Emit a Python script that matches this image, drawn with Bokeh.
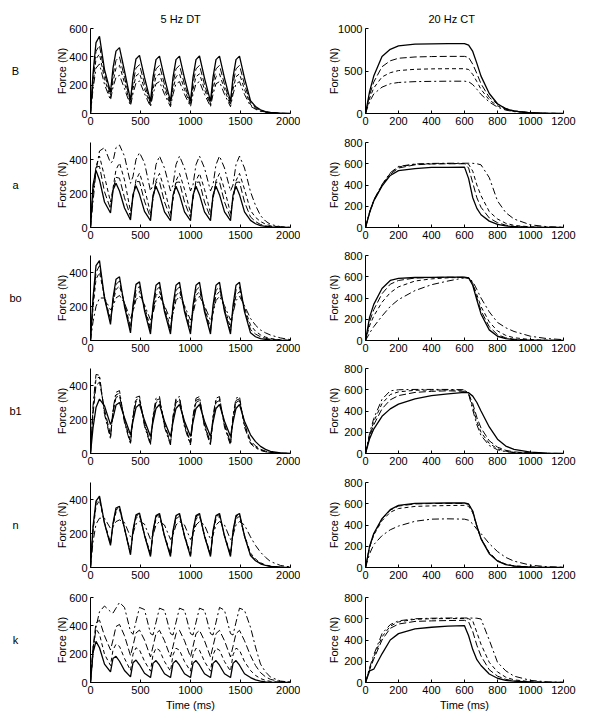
from bokeh.plotting import figure
from bokeh.layouts import column, row
from bokeh.models import Range1d, FixedTicker, Title, ColumnDataSource
from bokeh.core.properties import value
from bokeh.embed import file_html
from bokeh.resources import INLINE

FONT = "Liberation Sans"

# ---------------- data ----------------
row_names = ["B", "a", "bo", "b1", "n", "k"]
col_titles = ["5 Hz DT", "20 Hz CT"]

dt_ymax = [600, 500, 500, 500, 500, 600]
ct_ymax = [1000, 800, 800, 800, 800, 800]
dt_yticks = [[0, 200, 400, 600], [0, 200, 400], [0, 200, 400], [0, 200, 400], [0, 200, 400], [0, 200, 400, 600]]
ct_yticks = [[0, 500, 1000], [0, 200, 400, 600, 800], [0, 200, 400, 600, 800],
             [0, 200, 400, 600, 800], [0, 200, 400, 600, 800], [0, 200, 400, 600, 800]]
dt_xticks = [0, 500, 1000, 1500, 2000]
ct_xticks = [0, 200, 400, 600, 800, 1000, 1200]

# time samples (ms)
dt_time = [0, 25, 55, 90, 140, 200, 225, 255, 290, 340, 400, 425, 455, 490, 540,
           600, 625, 655, 690, 740, 800, 825, 855, 890, 940, 1000, 1025, 1055, 1090, 1140,
           1200, 1225, 1255, 1290, 1340, 1400, 1425, 1455, 1490, 1540,
           1600, 1650, 1700, 1750, 1800, 1900, 2000]
ct_time = [0, 25, 50, 100, 150, 200, 300, 400, 500, 600, 625, 650, 675, 700, 750, 800, 850, 900, 1000, 1100, 1200]

# ---- 5 Hz DT forces (N) ----
B_dt_solid = [0, 280, 500, 545, 310, 150, 320, 440, 465, 300, 95, 260, 385, 410, 255, 85, 255, 380, 405, 250,
              85, 255, 380, 405, 250, 85, 255, 380, 406, 250, 85, 255, 380, 405, 250, 85, 255, 380, 405, 250,
              90, 50, 26, 14, 7, 2, 0]
B_dt_dash = [0, 240, 440, 480, 280, 130, 270, 375, 400, 255, 80, 215, 320, 345, 210, 70, 210, 315, 340, 205,
             70, 210, 315, 340, 205, 70, 210, 315, 340, 205, 70, 210, 315, 340, 205, 70, 210, 315, 340, 205,
             75, 42, 22, 12, 6, 2, 0]
B_dt_dash2 = [0, 205, 385, 420, 245, 110, 225, 320, 340, 215, 65, 175, 265, 285, 175, 58, 170, 260, 280, 170,
              58, 170, 260, 280, 170, 58, 170, 260, 280, 170, 58, 170, 260, 280, 170, 58, 170, 260, 280, 170,
              62, 35, 18, 10, 5, 1, 0]
B_dt_dashdot = [0, 170, 320, 350, 205, 95, 185, 255, 270, 175, 55, 140, 215, 230, 140, 48, 135, 210, 225, 135,
                48, 135, 210, 225, 135, 48, 135, 210, 225, 135, 48, 135, 210, 225, 135, 48, 135, 210, 225, 135,
                52, 30, 15, 8, 4, 1, 0]

a_dt_solid = [0, 250, 335, 280, 150, 85, 220, 260, 215, 115, 45, 195, 245, 195, 95, 40, 190, 243, 193, 92,
              40, 190, 243, 193, 92, 40, 190, 243, 193, 92, 40, 190, 243, 193, 92, 40, 190, 243, 193, 92,
              42, 22, 11, 6, 3, 1, 0]
a_dt_dash = [0, 220, 355, 360, 210, 110, 220, 295, 290, 175, 65, 185, 270, 270, 155, 58, 178, 265, 268, 150,
             58, 178, 265, 268, 150, 58, 178, 265, 268, 150, 58, 178, 265, 268, 150, 58, 178, 265, 268, 150,
             62, 35, 18, 10, 5, 1, 0]
a_dt_dash2 = [0, 190, 360, 420, 300, 150, 230, 340, 380, 280, 95, 170, 280, 320, 230, 85, 165, 275, 318, 225,
              85, 165, 275, 318, 225, 85, 165, 275, 318, 225, 85, 165, 275, 318, 225, 85, 165, 275, 318, 225,
              100, 60, 35, 20, 11, 3, 0]
a_dt_dashdot = [0, 150, 330, 450, 470, 380, 390, 470, 485, 420, 260, 300, 400, 440, 380, 215, 250, 370, 420, 350,
                215, 250, 370, 420, 350, 215, 250, 370, 420, 350, 215, 250, 370, 420, 350, 215, 250, 370, 420, 350,
                210, 130, 70, 38, 18, 5, 0]

bo_dt_solid = [0, 250, 440, 470, 250, 95, 250, 360, 375, 200, 45, 210, 330, 345, 175, 38, 205, 325, 342, 170,
               38, 205, 325, 342, 170, 38, 205, 325, 342, 170, 38, 205, 325, 342, 170, 38, 205, 325, 342, 170,
               45, 22, 11, 6, 3, 1, 0]
bo_dt_dash = [0, 220, 400, 440, 250, 110, 235, 330, 350, 210, 60, 190, 300, 318, 185, 55, 185, 295, 315, 180,
              55, 185, 295, 315, 180, 55, 185, 295, 315, 180, 55, 185, 295, 315, 180, 55, 185, 295, 315, 180,
              65, 38, 22, 13, 7, 2, 0]
bo_dt_dash2 = [0, 190, 360, 400, 260, 125, 220, 300, 320, 220, 80, 175, 270, 290, 200, 75, 170, 265, 288, 195,
               75, 170, 265, 288, 195, 75, 170, 265, 288, 195, 75, 170, 265, 288, 195, 75, 170, 265, 288, 195,
               90, 55, 33, 20, 12, 4, 0]
bo_dt_dashdot = [0, 110, 200, 250, 250, 180, 200, 250, 265, 220, 130, 170, 240, 262, 210, 120, 160, 235, 260, 205,
                 120, 160, 235, 260, 205, 120, 160, 235, 260, 205, 120, 160, 235, 260, 205, 120, 160, 235, 260, 205,
                 130, 90, 62, 45, 32, 15, 5]

b1_dt_solid = [0, 150, 270, 320, 280, 170, 210, 285, 300, 210, 110, 190, 270, 290, 195, 100, 185, 265, 288, 190,
               100, 185, 265, 288, 190, 100, 185, 265, 288, 190, 100, 185, 265, 288, 190, 100, 185, 265, 288, 190,
               110, 70, 42, 24, 13, 4, 1]
b1_dt_dash = [0, 230, 400, 420, 260, 110, 240, 330, 340, 200, 70, 210, 305, 315, 180, 62, 205, 300, 312, 175,
              62, 205, 300, 312, 175, 62, 205, 300, 312, 175, 62, 205, 300, 312, 175, 62, 205, 300, 312, 175,
              75, 45, 25, 14, 7, 2, 0]
b1_dt_dash2 = [0, 260, 440, 450, 240, 95, 250, 345, 355, 190, 60, 215, 315, 325, 170, 55, 210, 312, 322, 165,
               55, 210, 312, 322, 165, 55, 210, 312, 322, 165, 55, 210, 312, 322, 165, 55, 210, 312, 322, 165,
               65, 38, 21, 11, 6, 1, 0]
b1_dt_dashdot = [0, 280, 465, 460, 230, 85, 260, 360, 370, 180, 55, 225, 330, 338, 160, 50, 220, 325, 335, 155,
                 50, 220, 325, 335, 155, 50, 220, 325, 335, 155, 50, 220, 325, 335, 155, 50, 220, 325, 335, 155,
                 58, 33, 18, 10, 5, 1, 0]

n_dt_solid = [0, 240, 390, 420, 260, 130, 260, 350, 360, 230, 75, 220, 310, 320, 190, 65, 215, 305, 318, 185,
              65, 215, 305, 318, 185, 65, 215, 305, 318, 185, 65, 215, 305, 318, 185, 65, 215, 305, 318, 185,
              70, 40, 22, 12, 6, 2, 0]
n_dt_dash = [0, 230, 380, 410, 260, 135, 255, 340, 352, 228, 80, 215, 302, 315, 188, 70, 210, 298, 312, 183,
             70, 210, 298, 312, 183, 70, 210, 298, 312, 183, 70, 210, 298, 312, 183, 70, 210, 298, 312, 183,
             75, 43, 24, 13, 7, 2, 0]
n_dt_dash2 = [0, 210, 360, 395, 265, 145, 245, 325, 340, 230, 90, 205, 290, 305, 195, 80, 200, 285, 302, 190,
              80, 200, 285, 302, 190, 80, 200, 285, 302, 190, 80, 200, 285, 302, 190, 80, 200, 285, 302, 190,
              85, 50, 28, 15, 8, 2, 0]
n_dt_dashdot = [0, 150, 255, 290, 290, 230, 240, 270, 280, 265, 180, 200, 255, 272, 255, 165, 190, 250, 270, 250,
                165, 190, 250, 270, 250, 165, 190, 250, 270, 250, 165, 190, 250, 270, 250, 165, 190, 250, 270, 250,
                180, 130, 90, 60, 35, 12, 3]

k_dt_solid = [0, 210, 290, 245, 130, 75, 170, 185, 150, 85, 40, 140, 158, 125, 65, 35, 135, 155, 122, 62,
              35, 135, 155, 122, 62, 35, 135, 155, 122, 62, 35, 135, 155, 122, 62, 35, 135, 155, 122, 62,
              35, 18, 9, 5, 2, 0, 0]
k_dt_dash = [0, 250, 420, 440, 330, 230, 300, 395, 410, 330, 190, 260, 350, 370, 300, 180, 255, 345, 368, 295,
             180, 255, 345, 368, 295, 180, 255, 345, 368, 295, 180, 255, 345, 368, 295, 180, 255, 345, 368, 295,
             190, 120, 70, 40, 22, 6, 1]
k_dt_dash2 = [0, 240, 380, 340, 200, 120, 230, 270, 255, 170, 85, 200, 245, 230, 150, 80, 195, 242, 228, 148,
              80, 195, 242, 228, 148, 80, 195, 242, 228, 148, 80, 195, 242, 228, 148, 80, 195, 242, 228, 148,
              85, 50, 28, 15, 8, 2, 0]
k_dt_dashdot = [0, 200, 390, 500, 540, 500, 490, 525, 565, 530, 360, 340, 430, 530, 515, 345, 335, 425, 525, 510,
                345, 335, 425, 525, 510, 345, 335, 425, 525, 510, 345, 335, 425, 530, 510, 345, 335, 425, 525, 510,
                390, 250, 130, 75, 38, 10, 3]

# ---- 20 Hz CT forces (N) ----
B_ct_solid = [0, 260, 440, 670, 755, 795, 815, 820, 822, 822, 805, 730, 590, 440, 235, 115, 55, 28, 8, 2, 0]
B_ct_dash = [0, 220, 370, 550, 620, 650, 665, 670, 672, 672, 660, 580, 470, 350, 190, 110, 60, 32, 10, 3, 0]
B_ct_dash2 = [0, 180, 300, 430, 480, 505, 520, 525, 527, 527, 518, 460, 375, 285, 160, 90, 50, 27, 8, 2, 0]
B_ct_dashdot = [0, 140, 230, 310, 350, 365, 375, 378, 380, 380, 374, 340, 285, 225, 135, 75, 40, 22, 7, 2, 0]

a_ct_solid = [0, 140, 250, 390, 490, 535, 555, 565, 565, 568, 460, 280, 180, 120, 60, 30, 15, 8, 2, 1, 0]
a_ct_dash = [0, 140, 250, 395, 500, 560, 590, 598, 600, 600, 560, 420, 280, 190, 90, 45, 22, 10, 3, 1, 0]
a_ct_dash2 = [0, 145, 255, 400, 510, 570, 595, 600, 602, 602, 595, 530, 400, 300, 150, 80, 40, 20, 6, 2, 0]
a_ct_dashdot = [0, 150, 260, 405, 515, 575, 598, 603, 605, 605, 605, 604, 600, 590, 470, 250, 140, 80, 25, 8, 2]

bo_ct_solid = [0, 220, 340, 490, 565, 585, 593, 595, 596, 596, 590, 520, 380, 250, 100, 40, 18, 8, 3, 1, 0]
bo_ct_dash = [0, 180, 290, 440, 530, 565, 588, 593, 595, 595, 590, 530, 400, 280, 130, 55, 25, 12, 4, 1, 0]
bo_ct_dash2 = [0, 140, 230, 360, 450, 505, 560, 580, 590, 594, 588, 540, 430, 320, 175, 90, 48, 26, 9, 3, 1]
bo_ct_dashdot = [0, 70, 130, 230, 320, 385, 470, 525, 560, 590, 585, 555, 480, 400, 270, 170, 120, 85, 40, 18, 8]

b1_ct_solid = [0, 140, 230, 350, 420, 465, 515, 545, 562, 575, 572, 540, 480, 400, 250, 135, 70, 38, 12, 4, 1]
b1_ct_dash = [0, 160, 270, 420, 505, 545, 575, 585, 590, 585, 560, 470, 340, 240, 120, 60, 30, 15, 5, 1, 0]
b1_ct_dash2 = [0, 175, 300, 470, 555, 580, 595, 598, 598, 595, 565, 440, 300, 200, 95, 45, 22, 11, 4, 1, 0]
b1_ct_dashdot = [0, 190, 330, 510, 590, 600, 603, 603, 603, 600, 560, 410, 270, 170, 75, 35, 17, 8, 3, 1, 0]

n_ct_solid = [0, 200, 320, 460, 545, 585, 603, 606, 607, 607, 598, 530, 390, 270, 130, 60, 28, 13, 4, 1, 0]
n_ct_dash = [0, 195, 315, 455, 540, 578, 598, 602, 603, 603, 594, 528, 390, 272, 135, 62, 30, 14, 4, 1, 0]
n_ct_dash2 = [0, 190, 305, 440, 520, 555, 575, 580, 583, 585, 576, 515, 385, 275, 140, 66, 31, 15, 5, 1, 0]
n_ct_dashdot = [0, 130, 215, 300, 355, 390, 435, 455, 458, 455, 445, 410, 360, 320, 225, 150, 95, 60, 22, 8, 2]

k_ct_solid = [0, 110, 125, 270, 400, 460, 505, 520, 530, 535, 440, 310, 215, 160, 80, 40, 20, 12, 4, 1, 0]
k_ct_dash = [0, 120, 220, 400, 510, 550, 575, 580, 583, 585, 570, 480, 350, 250, 120, 60, 30, 15, 5, 1, 0]
k_ct_dash2 = [0, 130, 240, 430, 530, 570, 595, 600, 602, 602, 600, 580, 470, 360, 190, 100, 50, 25, 8, 2, 0]
k_ct_dashdot = [0, 140, 260, 460, 545, 580, 600, 605, 607, 607, 607, 606, 605, 598, 400, 190, 110, 60, 20, 6, 2]

dt_series = [
    [B_dt_solid, B_dt_dash, B_dt_dash2, B_dt_dashdot],
    [a_dt_solid, a_dt_dash, a_dt_dash2, a_dt_dashdot],
    [bo_dt_solid, bo_dt_dash, bo_dt_dash2, bo_dt_dashdot],
    [b1_dt_solid, b1_dt_dash, b1_dt_dash2, b1_dt_dashdot],
    [n_dt_solid, n_dt_dash, n_dt_dash2, n_dt_dashdot],
    [k_dt_solid, k_dt_dash, k_dt_dash2, k_dt_dashdot],
]
ct_series = [
    [B_ct_solid, B_ct_dash, B_ct_dash2, B_ct_dashdot],
    [a_ct_solid, a_ct_dash, a_ct_dash2, a_ct_dashdot],
    [bo_ct_solid, bo_ct_dash, bo_ct_dash2, bo_ct_dashdot],
    [b1_ct_solid, b1_ct_dash, b1_ct_dash2, b1_ct_dashdot],
    [n_ct_solid, n_ct_dash, n_ct_dash2, n_ct_dashdot],
    [k_ct_solid, k_ct_dash, k_ct_dash2, k_ct_dashdot],
]

# ---------------- styling / layout ----------------
line_styles = [("solid", 1.3), ("7 3", 1.0), ("4 3", 1.0), ("7 3 2 3", 1.0)]
border_top = [28, 7, 7, 7, 7, 7]
border_bottom = [22, 21, 21, 22, 23, 40]
FH = 85


def style_axis(ax, ticks):
    ax.ticker = FixedTicker(ticks=ticks)
    ax.major_tick_in = 3
    ax.major_tick_out = 0
    ax.minor_tick_line_color = None
    ax.axis_line_color = "black"
    ax.major_tick_line_color = "black"
    ax.major_label_text_font = FONT
    ax.major_label_text_font_size = "11px"
    ax.major_label_text_color = "black"
    ax.major_label_standoff = 3
    ax.axis_label_text_font = FONT
    ax.axis_label_text_font_size = "11px"
    ax.axis_label_text_font_style = "normal"
    ax.axis_label_text_color = "black"


def make_label_fig(i):
    p = figure(frame_width=30, frame_height=FH,
               x_range=Range1d(0, 1), y_range=Range1d(0, 1),
               min_border_left=0, min_border_right=0,
               min_border_top=border_top[i], min_border_bottom=border_bottom[i],
               output_backend="svg", toolbar_location=None, tools="")
    p.outline_line_color = None
    p.axis.visible = False
    p.grid.visible = False
    src = ColumnDataSource(dict(x=[0.5], y=[0.5], t=[row_names[i]]))
    p.text(x="x", y="y", text="t", source=src, text_align="center", text_baseline="middle",
           text_font=value(FONT), text_font_size="11px", text_color="black")
    return p


def make_panel(i, is_dt):
    xmax = 2000 if is_dt else 1200
    ymax = dt_ymax[i] if is_dt else ct_ymax[i]
    fw = 200 if is_dt else 198
    left = 60 if is_dt else 65
    right = 10 if is_dt else 29
    p = figure(frame_width=fw, frame_height=FH,
               x_range=Range1d(0, xmax), y_range=Range1d(0, ymax),
               min_border_left=left, min_border_right=right,
               min_border_top=border_top[i], min_border_bottom=border_bottom[i],
               output_backend="svg", toolbar_location=None, tools="")
    p.outline_line_color = None
    p.grid.visible = False
    style_axis(p.xaxis[0], dt_xticks if is_dt else ct_xticks)
    style_axis(p.yaxis[0], dt_yticks[i] if is_dt else ct_yticks[i])
    p.yaxis[0].axis_label = "Force (N)"
    if is_dt:
        p.yaxis[0].axis_label_standoff = -2
    else:
        p.yaxis[0].axis_label_standoff = -5 if ct_ymax[i] >= 1000 else 1
    if i == 5:
        p.xaxis[0].axis_label = "Time (ms)"
        p.xaxis[0].axis_label_standoff = 2
    if i == 0:
        p.add_layout(Title(text=col_titles[0 if is_dt else 1], align="left",
                           offset=70 if is_dt else 63, standoff=8,
                           text_font=FONT, text_font_size="11px", text_font_style="normal",
                           text_color="black"), "above")
    t = dt_time if is_dt else ct_time
    series = dt_series[i] if is_dt else ct_series[i]
    for ys, (dash, w) in zip(series, line_styles):
        p.line(t, ys, line_color="black", line_width=w, line_dash=dash)
    return p


rows = []
for i in range(6):
    rows.append(row(make_label_fig(i), make_panel(i, True), make_panel(i, False)))
layout = column(*rows)

open("out.html", "w").write(file_html(layout, INLINE))
